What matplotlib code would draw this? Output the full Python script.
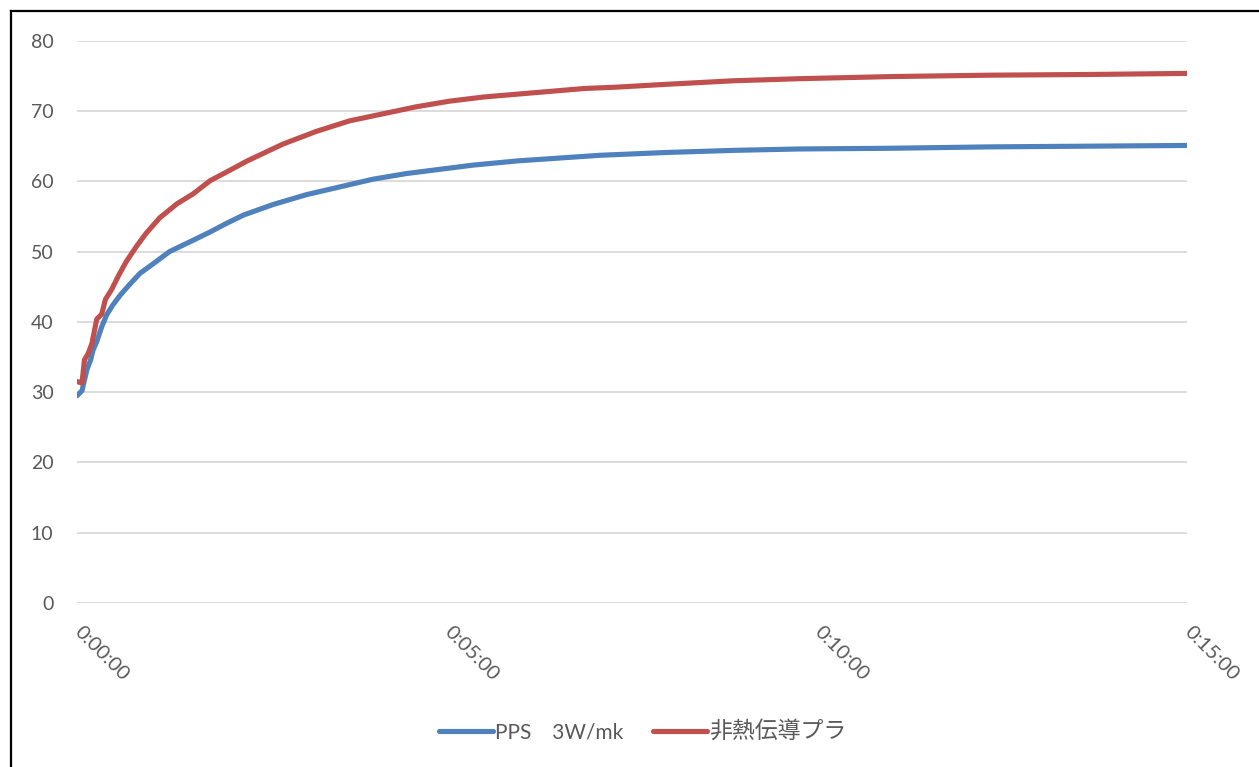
import matplotlib.pyplot as plt
from matplotlib.lines import Line2D

# elapsed seconds and temperature
pps_time = [0, 4, 8, 11, 13, 16, 20, 24, 29, 35, 42, 51, 62, 75, 94, 108, 121, 135,
            159, 186, 213, 240, 267, 294, 321, 357, 424, 478, 532, 586, 660, 741, 822, 900]
pps_temp = [29.5, 30.2, 33.2, 34.6, 36.0, 37.2, 39.3, 41.0, 42.4, 43.8, 45.2, 46.9, 48.3, 50.0,
            51.6, 52.8, 54.0, 55.2, 56.7, 58.1, 59.2, 60.3, 61.1, 61.7, 62.3, 62.9, 63.7, 64.1,
            64.4, 64.6, 64.7, 64.9, 65.0, 65.1]

plain_time = [0, 4, 6, 9, 12, 16, 20, 23, 28, 34, 40, 48, 56, 67, 81, 94, 108, 121, 138,
              167, 194, 221, 248, 275, 302, 330, 357, 384, 411, 438, 478, 532, 586, 660, 741, 822, 900]
plain_temp = [31.5, 31.3, 34.6, 35.5, 36.9, 40.4, 41.1, 43.2, 44.6, 46.7, 48.6, 50.7, 52.6, 54.8,
              56.8, 58.2, 60.1, 61.3, 62.9, 65.3, 67.1, 68.6, 69.6, 70.6, 71.4, 72.0, 72.4, 72.8,
              73.2, 73.4, 73.8, 74.3, 74.6, 74.9, 75.1, 75.2, 75.35]

x_ticks = [0, 300, 600, 900]
x_labels = ["0:00:00", "0:05:00", "0:10:00", "0:15:00"]
y_ticks = [0, 10, 20, 30, 40, 50, 60, 70, 80]

plt.rcParams['font.family'] = ['Lato', 'Noto Sans CJK JP', 'DejaVu Sans']

fig = plt.figure(figsize=(12.59, 7.67), dpi=100)
ax = fig.add_axes([0.0612, 0.2138, 0.8816, 0.7331])

ax.plot(pps_time, pps_temp, color="#4F81BD", linewidth=3.7, label="PPS　3W/mk",
        solid_capstyle="round")
ax.plot(plain_time, plain_temp, color="#C0504D", linewidth=3.7, label="非熱伝導プラ",
        solid_capstyle="round")

ax.set_xlim(0, 900)
ax.set_ylim(0, 80)
ax.set_yticks(y_ticks)
ax.set_xticks(x_ticks)
ax.set_xticklabels(x_labels, rotation=-45, ha="left", va="center", rotation_mode="anchor")
ax.grid(axis="y", color="#D9D9D9", linewidth=1.3)
ax.set_axisbelow(True)
for s in ax.spines.values():
    s.set_visible(False)
ax.tick_params(axis="both", length=0, labelcolor="#595959")
ax.tick_params(axis="y", pad=17, labelsize=14)
ax.tick_params(axis="x", pad=19, labelsize=14.5)

leg = ax.legend(loc="center", bbox_to_anchor=(0.5095, -0.228), ncol=2, frameon=False,
                fontsize=15, handlelength=2.6, handletextpad=0.1, columnspacing=1.4)
for t in leg.get_texts():
    t.set_color("#595959")
leg.get_texts()[1].set_fontsize(16.5)

# chart border (left and top edges visible in the crop)
fig.add_artist(Line2D([11 / 1259, 11 / 1259], [0, 1 - 11 / 767], color="black", linewidth=1.6))
fig.add_artist(Line2D([11 / 1259, 1], [1 - 11 / 767, 1 - 11 / 767], color="black", linewidth=1.6))

fig.savefig("out.png", dpi=100)
